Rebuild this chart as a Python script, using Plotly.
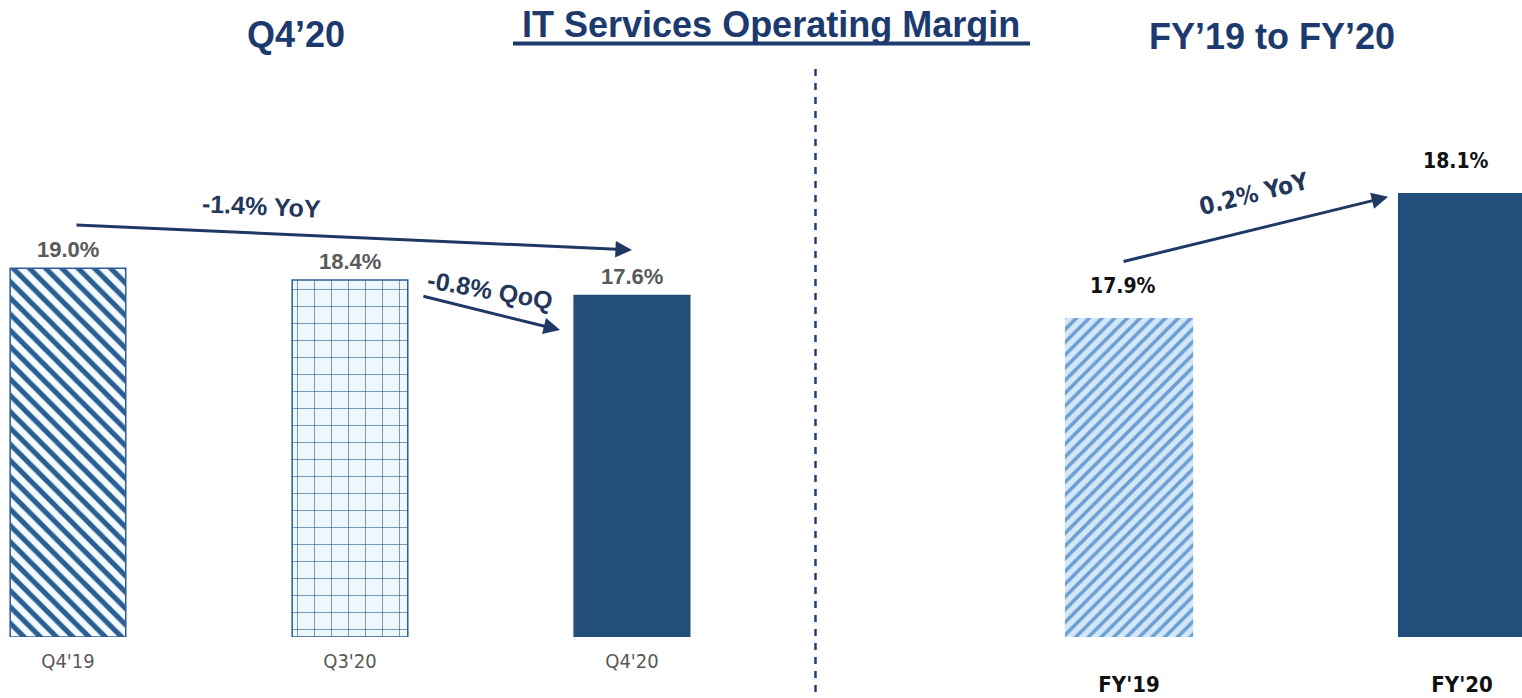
import plotly.graph_objects as go

# ---------------- data ----------------
q_categories = ["Q4'19", "Q3'20", "Q4'20"]
q_margin = [19.0, 18.4, 17.6]
q_labels = ["19.0%", "18.4%", "17.6%"]

fy_categories = ["FY'19", "FY'20"]
fy_margin = [17.9, 18.1]
fy_labels = ["17.9%", "18.1%"]

q_yoy_text = "-1.4% YoY"
q_qoq_text = "-0.8% QoQ"
fy_yoy_text = "0.2% YoY"

title_main = "IT Services Operating Margin"
title_left = "Q4’20"
title_right = "FY’19 to FY’20"

# ---------------- styling ----------------
W, H = 1522, 698
NAVY = "#1C3A6E"
DARK = "#234E78"
NARROW = "Liberation Sans Narrow, DejaVu Sans Condensed, Roboto Condensed, Liberation Sans, Arial, sans-serif"
ARIAL = "Liberation Sans, Arial, sans-serif"

q_styles = [
    dict(color="white", line="#2B5F94", shape="\\", fg="#2B5F94", bg="#F4FAFE", size=11.5, sol=0.45),
    dict(color="#EEF7FC", line="#2D5E8C", shape="+", fg="#2D5E8C", bg="#EEF7FC", size=17, sol=0.07),
    dict(color=DARK, line=DARK, shape="", fg=DARK, bg=DARK, size=10, sol=0.5),
]
fy_styles = [
    dict(color="#CFE4F6", line="#CFE4F6", shape="/", fg="#6A9FD4", bg="#D3E7F7", size=9, sol=0.4),
    dict(color="#214E7A", line="#214E7A", shape="", fg="#214E7A", bg="#214E7A", size=10, sol=0.5),
]


def px_x(p):
    return p / W


def px_y(p):
    return 1 - p / H


y_dom = [px_y(637), px_y(60)]

fig = go.Figure()


def add_bar(cat, val, st, xa, ya, width, lw):
    fig.add_trace(go.Bar(
        x=[cat], y=[val], xaxis=xa, yaxis=ya, width=width,
        marker=dict(
            color=st["color"],
            line=dict(color=st["line"], width=lw),
            pattern=dict(shape=st["shape"], fgcolor=st["fg"], bgcolor=st["bg"],
                         size=st["size"], solidity=st["sol"], fillmode="replace"),
        ),
        hoverinfo="skip", showlegend=False,
    ))


for c, v, st in zip(q_categories, q_margin, q_styles):
    add_bar(c, v, st, "x", "y", 0.41, 1.5)
for c, v, st in zip(fy_categories, fy_margin, fy_styles):
    add_bar(c, v, st, "x2", "y2", 0.385, 0)

annotations = []

# value labels
for c, v, t in zip(q_categories, q_margin, q_labels):
    annotations.append(dict(
        x=c, y=v, xref="x", yref="y", text=t, showarrow=False,
        yanchor="middle", yshift=19,
        font=dict(family=ARIAL, size=22, color="#5A5A5A", weight="bold"),
    ))
for c, v, t in zip(fy_categories, fy_margin, fy_labels):
    annotations.append(dict(
        x=c, y=v, xref="x2", yref="y2", text=t, showarrow=False,
        yanchor="middle", yshift=32, xshift=-6,
        font=dict(family=NARROW, size=21, color="#111111", weight="bold"),
    ))

# arrows
arrow_style = dict(showarrow=True, arrowhead=2, arrowsize=1.1, arrowwidth=3,
                   arrowcolor="#1F3864", text="")
annotations.append(dict(
    x=2.0, y=q_margin[2] + 2.35, ax=0.025, ay=q_margin[0] + 2.24,
    xref="x", yref="y", axref="x", ayref="y", **arrow_style))
annotations.append(dict(
    x=1.745, y=q_margin[2] - 1.78, ax=1.255, ay=q_margin[1] - 0.82,
    xref="x", yref="y", axref="x", ayref="y", **arrow_style))
annotations.append(dict(
    x=0.778, y=fy_margin[1] - 0.006, ax=-0.021, ay=fy_margin[0] + 0.09,
    xref="x2", yref="y2", axref="x2", ayref="y2", **arrow_style))

# arrow texts
annotations.append(dict(
    x=0.688, y=22.2, xref="x", yref="y", text=q_yoy_text, showarrow=False,
    textangle=2.6, font=dict(family=ARIAL, size=25, color="#24375A", weight="bold")))
annotations.append(dict(
    x=1.496, y=17.9, xref="x", yref="y", text=q_qoq_text, showarrow=False,
    textangle=10, font=dict(family=ARIAL, size=25, color="#24375A", weight="bold")))
annotations.append(dict(
    x=0.375, y=18.099, xref="x2", yref="y2", text=fy_yoy_text, showarrow=False,
    textangle=-14, font=dict(family=NARROW, size=24, color="#24375A", weight="bold")))

# titles
for t, cx, cy in [(title_left, 296, 34), (title_main, 771, 24), (title_right, 1272, 36)]:
    annotations.append(dict(
        x=px_x(cx), y=px_y(cy), xref="paper", yref="paper", text=t,
        showarrow=False, xanchor="center", yanchor="middle",
        font=dict(family=ARIAL, size=36, color=NAVY, weight="bold"),
    ))

shapes = [
    dict(type="line", xref="paper", yref="paper",
         x0=px_x(513), x1=px_x(1030), y0=px_y(43.5), y1=px_y(43.5),
         line=dict(color=NAVY, width=4)),
    dict(type="line", xref="paper", yref="paper",
         x0=px_x(815.5), x1=px_x(815.5), y0=px_y(69), y1=0,
         line=dict(color="#1F3F7A", width=2.5, dash="7px,7px")),
]

fig.update_layout(
    width=W, height=H, autosize=False,
    margin=dict(l=0, r=0, t=0, b=0),
    paper_bgcolor="white", plot_bgcolor="white",
    barmode="overlay",
    xaxis=dict(domain=[0, px_x(760)], range=[-0.241, 2.454], type="category",
               categoryorder="array", categoryarray=q_categories,
               showgrid=False, zeroline=False, showline=False, ticks="",
               ticklabelstandoff=10,
               tickfont=dict(family=NARROW, size=20, color="#595959")),
    yaxis=dict(domain=y_dom, range=[0, 29.74], showgrid=False, zeroline=False,
               showticklabels=False, showline=False),
    xaxis2=dict(domain=[px_x(800), 1], range=[-0.988, 1.180], type="category",
                categoryorder="array", categoryarray=fy_categories,
                anchor="y2", showgrid=False, zeroline=False, showline=False,
                ticks="", ticklabelstandoff=32,
                tickfont=dict(family=NARROW, size=22, color="#111111", weight="bold")),
    yaxis2=dict(domain=y_dom, range=[17.3896, 18.313], anchor="x2",
                showgrid=False, zeroline=False, showticklabels=False, showline=False),
    annotations=annotations,
    shapes=shapes,
)

fig.write_html("out.html", config={"displayModeBar": False},
               post_script="document.body.style.margin='0';")
